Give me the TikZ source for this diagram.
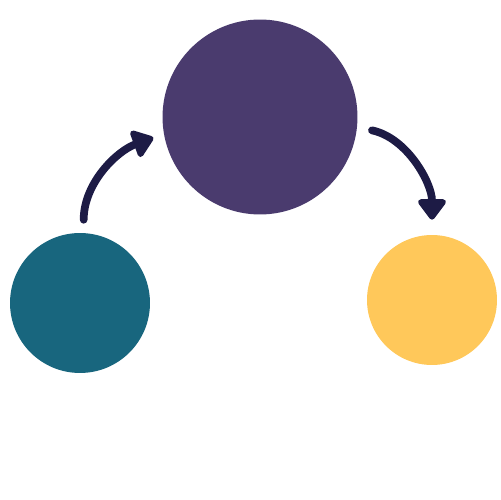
\documentclass[tikz,border=0pt]{standalone}
\usetikzlibrary{arrows.meta}

\definecolor{plum}{HTML}{4A3B6E}
\definecolor{teal}{HTML}{18667E}
\definecolor{sun}{HTML}{FFC85A}
\definecolor{ink}{HTML}{1D1B45}

\begin{document}
\begin{tikzpicture}[x=0.02cm,y=0.02cm,
  blob/.style={circle,inner sep=0pt,draw=none},
  loop/.style={draw=ink,line width=4.4pt,line cap=round,
    -{Triangle[width=0.64cm,length=0.45cm,round]}}]
  \useasboundingbox (0,0) rectangle (500,500);

  \node[blob,fill=plum,minimum size=3.9cm] (top) at (260,383) {};
  \node[blob,fill=teal,minimum size=2.8cm] (left) at (80,197) {};
  \node[blob,fill=sun,minimum size=2.6cm] (right) at (432,200) {};

  \draw[loop,shorten <=0.26cm,shorten >=0.22cm]
    (left.87) to[out=90,in=200] (top.190);
  \draw[loop,shorten <=0.3cm,shorten >=0.3cm]
    (top.-6) to[out=-12,in=90] (right.90);
\end{tikzpicture}
\end{document}
